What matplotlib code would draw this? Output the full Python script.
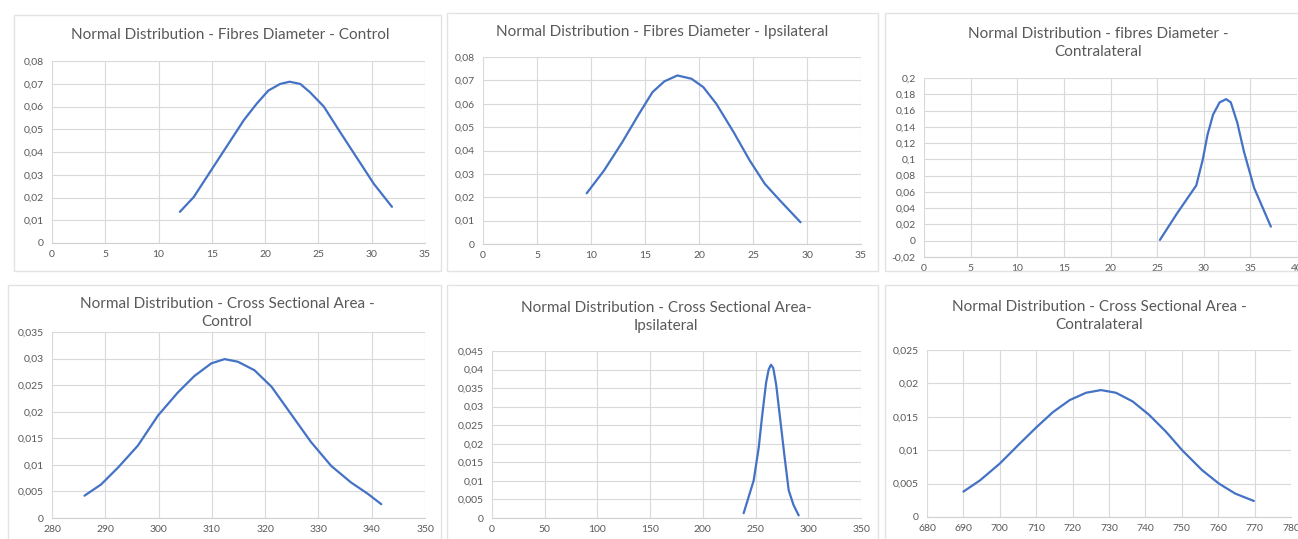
import numpy as np
import matplotlib.pyplot as plt
from matplotlib.ticker import FuncFormatter, MultipleLocator
from matplotlib.patches import Rectangle

# data
fd_ctrl_x = [12.0, 13.3, 14.8, 16.4, 18.0, 19.2, 20.3, 21.4, 22.3, 23.3, 24.2, 25.5, 27.0, 28.6, 30.2, 31.9]
fd_ctrl_y = [0.0137, 0.0202, 0.031, 0.0425, 0.054, 0.0612, 0.067, 0.0699, 0.0709, 0.0699, 0.0663, 0.060,
             0.049, 0.0375, 0.026, 0.0159]

fd_ipsi_x = [9.6, 11.2, 12.9, 14.45, 15.7, 16.8, 18.0, 19.3, 20.4, 21.6, 23.2, 24.7, 26.1, 27.5, 29.4]
fd_ipsi_y = [0.0217, 0.0314, 0.0436, 0.0557, 0.065, 0.0696, 0.0721, 0.0707, 0.0671, 0.060, 0.0479, 0.0357,
             0.0257, 0.0186, 0.0093]

fd_contra_x = [25.3, 27.1, 29.2, 29.9, 30.4, 31.0, 31.7, 32.4, 32.9, 33.6, 34.3, 35.4, 37.2]
fd_contra_y = [0.001, 0.033, 0.068, 0.100, 0.130, 0.155, 0.170, 0.174, 0.170, 0.145, 0.110, 0.065, 0.0173]

csa_ctrl_x = [286.1, 289.2, 292.4, 296.1, 299.9, 303.6, 306.7, 309.9, 312.4, 314.9, 318.0, 321.2, 324.9,
              328.6, 332.4, 336.1, 339.2, 341.8]
csa_ctrl_y = [0.0042, 0.0063, 0.0095, 0.0136, 0.0193, 0.0236, 0.0267, 0.0291, 0.0299, 0.0294, 0.0278,
              0.0247, 0.0195, 0.0143, 0.0098, 0.0067, 0.0046, 0.0026]

csa_ipsi_x = [238.7, 248.2, 253.0, 256.1, 260.0, 262.4, 264.6, 266.8, 269.5, 273.5, 277.5, 281.4, 286.0, 290.9]
csa_ipsi_y = [0.0013, 0.0101, 0.0190, 0.0272, 0.0365, 0.0400, 0.0413, 0.0404, 0.0360, 0.0263, 0.0165,
              0.0075, 0.0035, 0.0007]

csa_contra_x = [690.0, 694.6, 700.0, 705.5, 710.0, 714.6, 719.2, 723.7, 727.8, 731.9, 736.5, 741.0, 745.6,
                750.1, 755.6, 760.2, 764.7, 769.8]
csa_contra_y = [0.0038, 0.0055, 0.0080, 0.0110, 0.0134, 0.0157, 0.0175, 0.0186, 0.0190, 0.0186, 0.0173,
                0.0153, 0.0128, 0.0100, 0.0070, 0.0050, 0.0035, 0.0024]

titles = [
    "Normal Distribution - Fibres Diameter - Control",
    "Normal Distribution - Fibres Diameter - Ipsilateral",
    "Normal Distribution - fibres Diameter -\nContralateral",
    "Normal Distribution - Cross Sectional Area -\nControl",
    "Normal Distribution - Cross Sectional Area-\nIpsilateral",
    "Normal Distribution - Cross Sectional Area -\nContralateral",
]

W, H = 1298, 539
plt.rcParams['font.family'] = ['Lato', 'DejaVu Sans']
fig = plt.figure(figsize=(W / 100, H / 100), dpi=100)

grey = '#595959'
blue = '#4472C4'


def comma(v, pos):
    return '{:g}'.format(round(v, 4)).replace('.', ',')


def box(l, t, r, b):
    fig.patches.append(Rectangle((l / W, 1 - b / H), (r - l) / W, (b - t) / H,
                                 transform=fig.transFigure, fill=False,
                                 edgecolor='#e3e3e3', lw=1))


def panel(l, t, r, b, xs, ys, xlim, xstep, ylim, ystep):
    ax = fig.add_axes([l / W, 1 - b / H, (r - l) / W, (b - t) / H])
    ax.plot(xs, ys, color=blue, lw=1.6, solid_capstyle='round', solid_joinstyle='round')
    ax.set_xlim(*xlim)
    ax.set_ylim(*ylim)
    ax.xaxis.set_major_locator(MultipleLocator(xstep))
    ax.yaxis.set_major_locator(MultipleLocator(ystep))
    ax.xaxis.set_major_formatter(FuncFormatter(comma))
    ax.yaxis.set_major_formatter(FuncFormatter(comma))
    ax.grid(True, color='#d9d9d9', lw=0.8)
    ax.set_axisbelow(True)
    for s in ['top', 'right', 'left']:
        ax.spines[s].set_visible(False)
    ax.spines['bottom'].set_color('#d0d0d0')
    ax.tick_params(length=0, labelsize=7.5, labelcolor=grey)
    ax.tick_params(axis='y', pad=6)
    ax.tick_params(axis='x', pad=5)
    return ax


# chart frames
box(14, 15, 441, 271)
box(447, 13, 878, 271)
box(885, 13, 1300, 271)
box(8, 285, 441, 541)
box(447, 285, 878, 541)
box(885, 285, 1300, 541)

panel(52, 61, 425, 243, fd_ctrl_x, fd_ctrl_y, (0, 35), 5, (0, 0.08), 0.01)
panel(483, 57, 861, 244, fd_ipsi_x, fd_ipsi_y, (0, 35), 5, (0, 0.08), 0.01)
panel(924, 78, 1297, 257, fd_contra_x, fd_contra_y, (0, 40), 5, (-0.02, 0.2), 0.02)
panel(52, 332, 425, 518, csa_ctrl_x, csa_ctrl_y, (280, 350), 10, (0, 0.035), 0.005)
panel(492, 351, 861, 518, csa_ipsi_x, csa_ipsi_y, (0, 350), 50, (0, 0.045), 0.005)
panel(927, 350, 1291, 517, csa_contra_x, csa_contra_y, (680, 780), 10, (0, 0.025), 0.005)

title_pos = [(230, 35), (662, 32), (1098, 43), (227, 313), (666, 317), (1099, 316)]
for (x, y), t in zip(title_pos, titles):
    fig.text(x / W, 1 - y / H, t, ha='center', va='center', fontsize=11,
             color=grey, linespacing=1.3)

fig.savefig('out.png', dpi=100)
